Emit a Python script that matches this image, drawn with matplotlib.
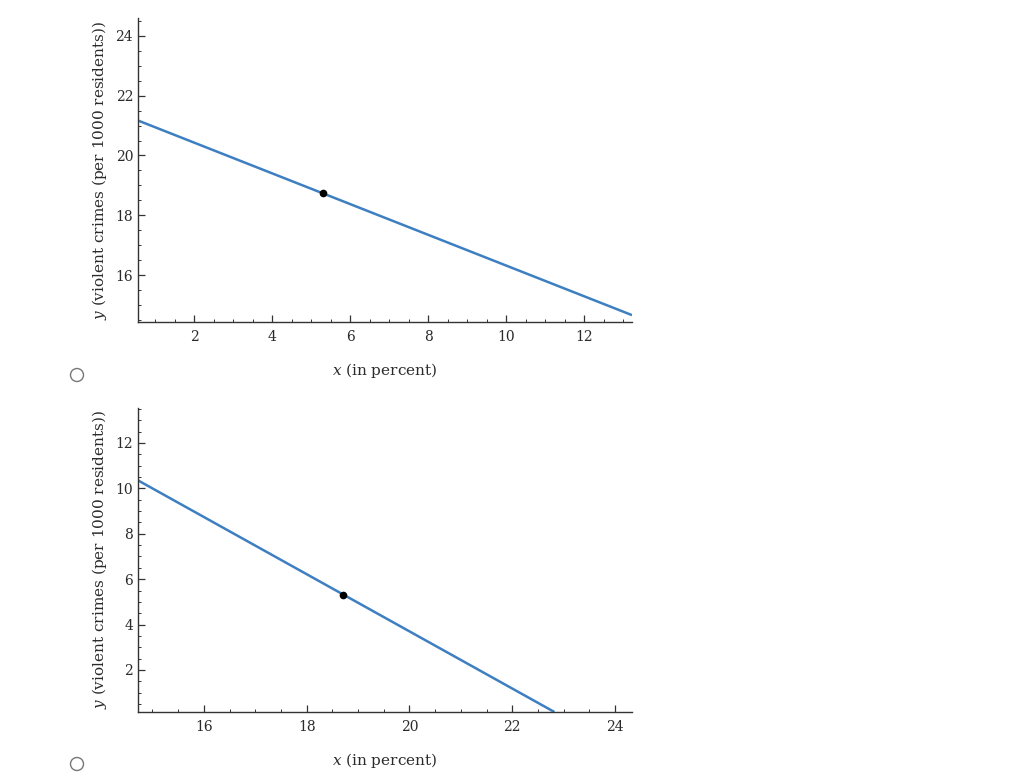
import matplotlib
matplotlib.use("Agg")
import matplotlib.pyplot as plt
from matplotlib.ticker import MultipleLocator
from matplotlib.patches import Ellipse

plt.rcParams['font.family'] = ['DejaVu Serif']
plt.rcParams['mathtext.fontset'] = 'dejavuserif'

# option A
line1_x = [0.56, 13.23]
line1_y = [21.17, 14.66]
pt1_x, pt1_y = 5.31, 18.73
xlim1 = (0.56, 13.23)
ylim1 = (14.43, 24.6)
xticks1 = [2, 4, 6, 8, 10, 12]
yticks1 = [16, 18, 20, 22, 24]

# option B
line2_x = [14.72, 22.82]
line2_y = [10.35, 0.15]
pt2_x, pt2_y = 18.70, 5.30
xlim2 = (14.72, 24.33)
ylim2 = (0.15, 13.54)
xticks2 = [16, 18, 20, 22, 24]
yticks2 = [2, 4, 6, 8, 10, 12]

line_color = '#3d7fc1'
text_color = '#2a2a2a'

fig = plt.figure(figsize=(10.24, 7.75), dpi=100)

def make_plot(rect, lx, ly, px, py, xlim, ylim, xt, yt):
    ax = fig.add_axes(rect)
    ax.plot(lx, ly, color=line_color, lw=1.8, solid_capstyle='butt')
    ax.plot([px], [py], 'o', color='black', ms=4.5)
    ax.set_xlim(*xlim)
    ax.set_ylim(*ylim)
    ax.set_xticks(xt)
    ax.set_yticks(yt)
    ax.xaxis.set_minor_locator(MultipleLocator(0.5))
    ax.yaxis.set_minor_locator(MultipleLocator(0.5))
    for s in ['top', 'right']:
        ax.spines[s].set_visible(False)
    for s in ['left', 'bottom']:
        ax.spines[s].set_color('#333333')
        ax.spines[s].set_linewidth(1.0)
    ax.tick_params(which='major', direction='in', length=5, width=0.9,
                   colors='#333333', labelsize=10, labelcolor=text_color)
    ax.tick_params(which='minor', direction='in', length=2.5, width=0.7,
                   colors='#333333')
    ax.tick_params(axis='x', pad=6)
    ax.set_xlabel(r'$x$ (in percent)', fontsize=11, color=text_color, labelpad=12)
    ax.set_ylabel(r'$y$ (violent crimes (per 1000 residents))', fontsize=11,
                  color=text_color, labelpad=5)
    return ax

ax1 = make_plot([0.1348, 0.5845, 0.4824, 0.3923], line1_x, line1_y, pt1_x, pt1_y,
                xlim1, ylim1, xticks1, yticks1)
ax2 = make_plot([0.1348, 0.0813, 0.4824, 0.3923], line2_x, line2_y, pt2_x, pt2_y,
                xlim2, ylim2, xticks2, yticks2)

# radio buttons
for cy in [375, 764]:
    fig.patches.append(Ellipse((77 / 1024, 1 - cy / 775), 13 / 1024, 13 / 775,
                               transform=fig.transFigure, fill=False,
                               edgecolor='#777777', lw=1.0))

fig.savefig('out.png', dpi=100)
